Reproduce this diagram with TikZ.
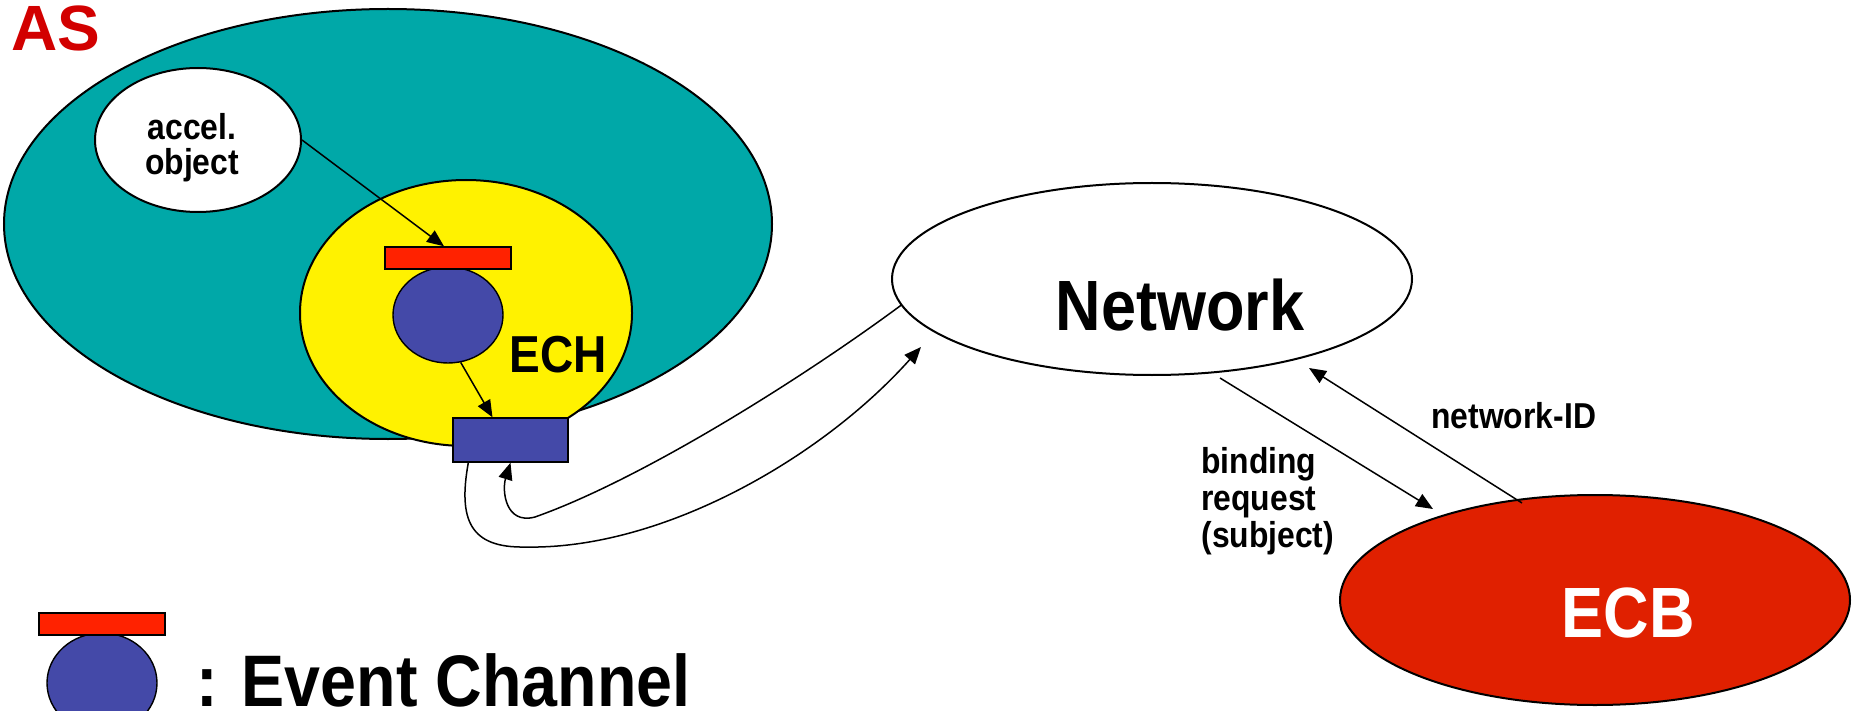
\documentclass[tikz,border=0pt]{standalone}
\usepackage{fontspec}
\setmainfont{Liberation Sans}[FakeStretch=0.885]
\newfontfamily\plainsans{Liberation Sans}
\usetikzlibrary{shapes.geometric,arrows.meta}
\definecolor{asteal}{RGB}{0,168,168}
\definecolor{chblue}{RGB}{68,73,168}
\definecolor{chred}{RGB}{255,34,0}
\definecolor{ecbred}{RGB}{224,32,0}
\definecolor{asred}{RGB}{210,0,0}
\tikzset{
  blob/.style={ellipse, draw, line width=1pt, inner sep=0pt},
  bar/.style={rectangle, draw, line width=0.7pt, inner sep=0pt},
  link/.style={line width=0.75pt, -{Triangle[length=8.5pt,width=7pt]}},
  small/.style={font=\bfseries\fontsize{18}{18.5}\selectfont, inner sep=0pt},
  mid/.style={font=\bfseries\fontsize{26}{30}\selectfont, inner sep=0pt},
  big/.style={font=\bfseries\fontsize{35.6}{40}\selectfont, inner sep=0pt},
}
\begin{document}
\begin{tikzpicture}[x=0.5pt,y=-0.5pt]
\useasboundingbox (0,0) rectangle (1852,711);

% address space with the accelerated object and the event channel host
\node[blob, fill=asteal, minimum width=384pt, minimum height=215pt] (as) at (388,224) {};
\node[inner sep=0pt, text=asred, font=\plainsans\bfseries\fontsize{32}{36}\selectfont] (astxt) at (56,28) {AS};
\node[blob, fill=white, minimum width=103pt, minimum height=72pt] (acc) at (198,140) {};
\node[small, align=center, font=\bfseries\fontsize{18}{17.5}\selectfont] (acctxt) at (192,148) {accel.\\object};
\node[blob, fill=yellow, minimum width=166pt, minimum height=133pt] (ech) at (466,313) {};
\node[mid] (echtxt) at (558,355) {ECH};

% event channel inside the host
\node[blob, fill=chblue, line width=0.7pt, minimum width=55pt, minimum height=48pt] (chbody) at (448,315) {};
\node[bar, fill=chred, minimum width=63pt, minimum height=11pt] (chtop) at (448,258) {};
\node[bar, fill=chblue, minimum width=57.5pt, minimum height=22pt] (out) at (510.5,440) {};

% network and binder
\node[blob, fill=white, minimum width=260pt, minimum height=96pt] (net) at (1152,279) {};
\node[big] (nettxt) at (1180,305) {Network};
\node[blob, fill=ecbred, minimum width=255pt, minimum height=105pt] (ecb) at (1595,600) {};
\node[big, text=white] (ecbtxt) at (1628,613) {ECB};

% legend
\node[blob, fill=chblue, line width=0.7pt, minimum width=55pt, minimum height=50pt] (legbody) at (102,683) {};
\node[bar, fill=chred, minimum width=63pt, minimum height=11pt] (legtop) at (102,624) {};
\node[big, anchor=base west, font=\bfseries\fontsize{36.5}{40}\selectfont] (legtxt) at (196,706) {: Event Channel};

% connectors
\draw[link] (acc.east) -- ([xshift=-2pt]chtop.north);
\draw[link] (chbody.-75) -- ([xshift=-9pt]out.north);

\coordinate (netin) at (921,347);
\draw[link] ([xshift=8pt]out.south west) .. controls (458,520) and (470,548) .. (525,547)
  .. controls (660,550) and (820,460) .. (netin);
\draw[link] (net.186.5) .. controls (800,380) and (640,480) .. (535,517)
  .. controls (505,525) and (502,490) .. (out.south);

\coordinate (reqfrom) at (1220,378);
\coordinate (reqto) at (1433,509);
\coordinate (idfrom) at (1522,503);
\coordinate (idto) at (1309,368);
\draw[link] (reqfrom) -- (reqto);
\draw[link] (idfrom) -- (idto);

\node[small, anchor=base west] (idtxt) at (1431,428) {network-ID};
\node[small, align=left, anchor=north west] (reqtxt) at (1201,447) {binding\\request\\(subject)};
\end{tikzpicture}
\end{document}
